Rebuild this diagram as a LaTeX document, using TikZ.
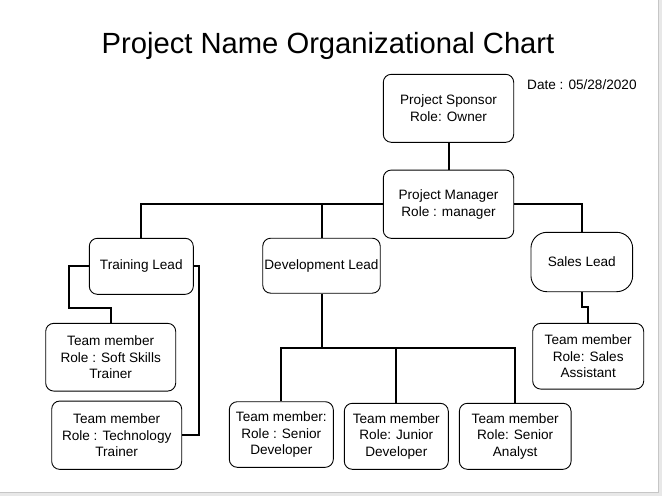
\documentclass[tikz,border=0pt]{standalone}
\usepackage{fontspec}
\setmainfont{Liberation Sans}
\usepackage{tikz}
\usetikzlibrary{positioning}

\tikzset{
  rolebox/.style={draw, rounded corners=8pt, line width=0.9pt, align=center, inner sep=0pt,
    font=\fontsize{13.6}{16.6}\selectfont},
  link/.style={line width=2pt},
}

\begin{document}
\begin{tikzpicture}[x=1pt,y=1pt,yscale=-1,xscale=1]
\useasboundingbox (0,0) rectangle (662,496);
%Shape: page edge
\fill[gray!18] (658.5,0) rectangle (662,496);
\fill[gray!18] (0,492.5) rectangle (662,496);
\draw[gray!45, line width=0.8pt] (658.5,0) -- (658.5,492.5) -- (0,492.5);

% Text Node
\node (title) [anchor=base, font=\fontsize{29.2}{34}\selectfont] at (328,53.3) {Project Name Organizational Chart};
% Text Node
\node (date) [anchor=base west, inner sep=0pt, font=\fontsize{13.6}{16.6}\selectfont] at (527,89.3) {Date : 05/28/2020};

%Shape: Rounded Rect
\node (sponsor) [rolebox, minimum width=130.4, minimum height=68] at (448.5,108.3) {Project Sponsor\\Role: Owner};
\node (manager) [rolebox, minimum width=130.4, minimum height=68.3] at (448.5,204.2) {Project Manager\\Role : manager};
\node (training) [rolebox, minimum width=104, minimum height=56] at (141.3,266.3) {Training Lead};
\node (dev) [rolebox, minimum width=117.5, minimum height=55] at (321.5,265.7) {Development Lead};
\node (sales) [rolebox, rounded corners=16pt, minimum width=101.7, minimum height=59.4] at (581.8,262) {Sales Lead};
\node (softskills) [rolebox, minimum width=130, minimum height=67.7] at (110.7,357.2) {Team member\\Role : Soft Skills\\Trainer};
\node (tech) [rolebox, minimum width=130, minimum height=68.3] at (116.7,435.2) {Team member\\Role : Technology\\Trainer};
\node (seniordev) [rolebox, minimum width=104, minimum height=65.6] at (281.3,434.5) {Team member:\\Role : Senior\\Developer};
\node (juniordev) [rolebox, minimum width=104, minimum height=66] at (396.3,436.3) {Team member\\Role: Junior\\Developer};
\node (analyst) [rolebox, minimum width=111.7, minimum height=66] at (515.2,436.3) {Team member\\Role: Senior\\Analyst};
\node (salesasst) [rolebox, minimum width=111, minimum height=65.7] at (588.2,356.2) {Team member\\Role: Sales\\Assistant};

% bend points
\coordinate (tl) at (69,307.7);
\coordinate (tr) at (199,266.3);
\coordinate (db) at (321.5,347.5);
\coordinate (sj) at (581.8,306.7);

%Straight Lines
\draw[link] (sponsor) -- (manager);
\draw[link] (manager.west) -| (training.north);
\draw[link] (dev.north) |- (manager.west);
\draw[link] (manager.east) -| (sales.north);
\draw[link] (sales.south) -- (sj) -| (salesasst.north);
\draw[link] (training.west) -| (tl) -| (softskills.north);
\draw[link] (training.east) -- (tr) |- (tech.east);
\draw[link] (dev.south) -- (db);
\draw[link] (db) -| (seniordev.north);
\draw[link] (db) -| (juniordev.north);
\draw[link] (db) -| (analyst.north);

\end{tikzpicture}
\end{document}
